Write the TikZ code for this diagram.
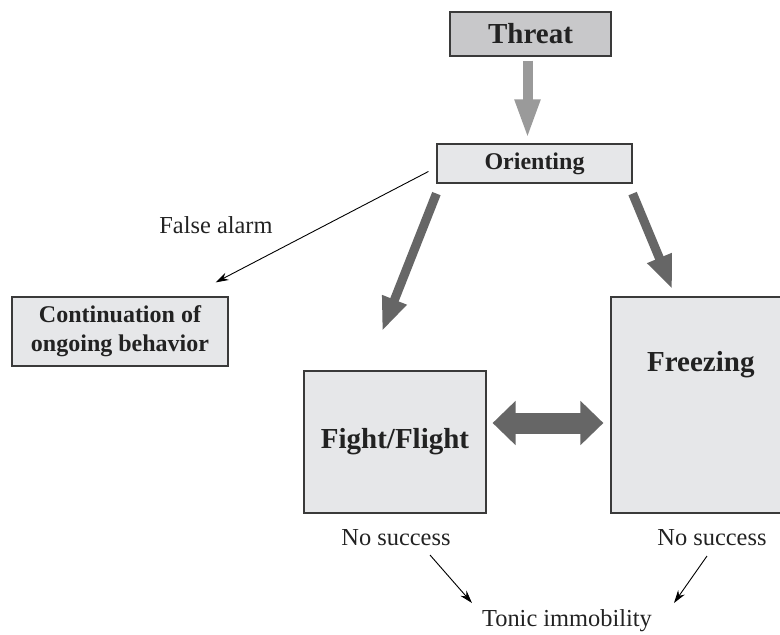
\documentclass[tikz,border=0pt]{standalone}
\usepackage{fontspec}
\setmainfont{Liberation Serif}
\usetikzlibrary{arrows.meta,calc}
\definecolor{boxfill}{HTML}{E6E7E9}
\definecolor{threatfill}{HTML}{C8C8CA}
\definecolor{boxline}{HTML}{3A3A3A}
\definecolor{darkarrow}{HTML}{666666}
\definecolor{lightarrow}{HTML}{9A9A9A}
\definecolor{txt}{HTML}{222222}
\tikzset{
  box/.style={draw=boxline, line width=1.2pt, fill=boxfill, inner sep=0pt, align=center, text=txt},
  bigbold/.style={font=\fontsize{29}{32}\selectfont\bfseries},
  midbold/.style={font=\fontsize{24}{29}\selectfont\bfseries},
  plain/.style={font=\fontsize{24.4}{28}\selectfont, text=txt, inner sep=0pt},
  thinarrow/.style={draw=black, line width=0.9pt, -{Stealth[length=13pt,width=8pt]}},
  blockarrow/.style={line width=9pt, draw=darkarrow, -{Triangle[length=34pt,width=24pt]}},
}
\begin{document}
\begin{tikzpicture}[x=1pt,y=-1pt]
\useasboundingbox (0,0) rectangle (780,635);
\node[box, fill=threatfill, bigbold, minimum width=161pt, minimum height=44pt] (threat) at (530.5,34) {Threat};
\node[box, midbold, minimum width=195pt, minimum height=39pt] (orient) at (534.5,163.5) {Orienting};
\node[box, midbold, minimum width=216pt, minimum height=69pt] (cont) at (120,331.5) {Continuation of\\ongoing behavior};
\node[box, bigbold, minimum width=182pt, minimum height=142pt] (fight) at (395,442) {Fight/Flight};
\node[box, minimum width=179pt, minimum height=216pt] (freeze) at (700.5,405) {};
\node[bigbold, text=txt, inner sep=0pt] (freezetext) at (700.8,365) {Freezing};
\node[plain] (false) at (216,225) {False alarm};
\node[plain] (ns1) at (396,538) {No success};
\node[plain] (ns2) at (712,538) {No success};
\node[plain] (tonic) at (567,621) {Tonic immobility};

\draw[line width=10pt, draw=lightarrow, -{Triangle[length=40pt,width=23pt]}]
  ($(threat.south)+(-3,4)$) -- ($(orient.north)+(-7,-4)$);
\draw[blockarrow] ($(orient.south west)+(0,10)$) -- ($(fight.north)+(-13,-39)$);
\draw[blockarrow] ($(orient.south east)+(0,10)$) -- ($(freeze.north west)+(62,-7)$);
\draw[line width=21pt, draw=darkarrow, {Triangle[length=23pt,width=43pt]}-{Triangle[length=23pt,width=43pt]}]
  ($(fight.east)+(6,-19)$) -- ($(freeze.west)+(-7,18)$);
\draw[thinarrow] ($(orient.west)+(-8,8)$) -- ($(cont.north east)+(-13,-14)$);
\draw[thinarrow] ($(ns1)+(34,17)$) -- ($(tonic)+(-95,-18)$);
\draw[thinarrow] ($(ns2)+(-5,18)$) -- ($(tonic)+(107,-18)$);
\end{tikzpicture}
\end{document}
